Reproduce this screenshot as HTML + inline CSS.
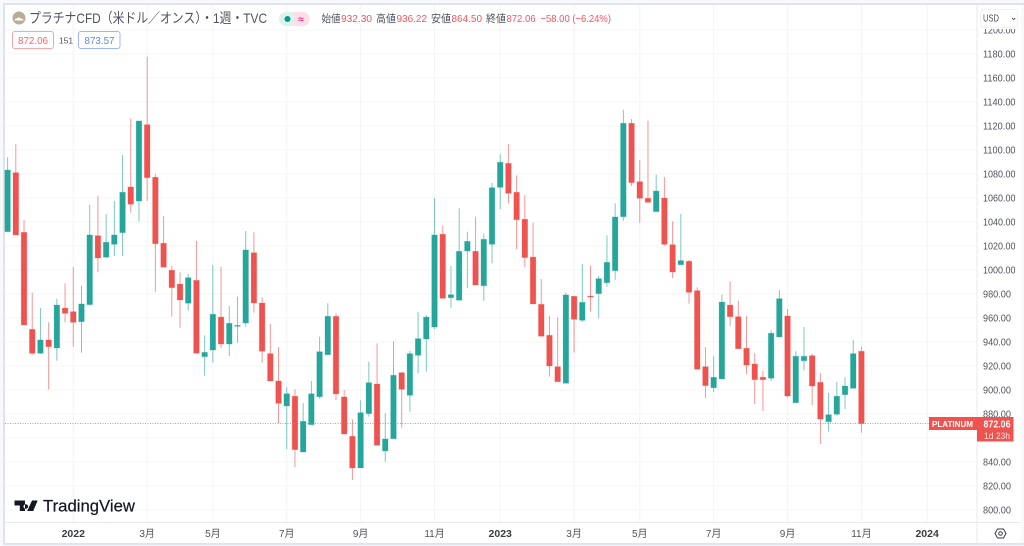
<!DOCTYPE html>
<html lang="ja">
<head>
<meta charset="utf-8">
<title>プラチナCFD</title>
<style>
html,body{margin:0;padding:0;width:1024px;height:546px;overflow:hidden;background:#fff}
svg{display:block;font-family:"Liberation Sans","Noto Sans CJK JP",sans-serif}
</style>
</head>
<body>
<svg id="chart" width="1024" height="546" viewBox="0 0 1024 546" xmlns="http://www.w3.org/2000/svg">
  <rect x="0" y="0" width="1024" height="546" fill="#f8f9fc"/>
  <rect x="5" y="5" width="1016" height="538" fill="#ffffff"/>
  <rect x="3" y="3" width="1021" height="2" fill="#e0e3eb"/>
  <rect x="3" y="3" width="2" height="540" fill="#e0e3eb"/>
  <rect x="3" y="543" width="1021" height="2" fill="#e0e3eb"/>
  <g id="grid"></g>
  <g id="priceLine"></g>
  <g id="candles"></g>

  <rect x="976.5" y="5" width="1" height="538" fill="#e8eaef"/>
  <rect x="5" y="522" width="1016" height="1" fill="#e8eaef"/>
  <g id="priceAxis"></g>
  <g id="timeAxis"></g>

  <rect x="977.5" y="5" width="43" height="24" fill="#fff"/>
  <g>
    <rect x="980.5" y="9.5" width="37" height="18" rx="3" fill="#fff" stroke="#f0f1f4"/>
    <text x="983" y="21.5" font-size="10.5" fill="#50535e" textLength="16" lengthAdjust="spacingAndGlyphs">USD</text>
    <path d="M1012 18l1.6 1.6 1.6-1.6" fill="none" stroke="#50535e" stroke-width="0.9"/>
  </g>

  <g>
    <circle cx="19" cy="18" r="6.5" fill="#b9ad98"/>
    <path d="M14.5 20.5c.3-1.6 1.5-2 2.3-1.8.5-1.600 3.500-1.600 4 0 1-.3 2.400.2 2.700 1.800z" fill="#fff"/>
    <text x="29" y="23" font-size="14" fill="#50535e" textLength="238" lengthAdjust="spacingAndGlyphs">プラチナCFD（米ドル／オンス）・1週・TVC</text>
  </g>
  <g>
    <path d="M286 12h8v14h-8a7 7 0 0 1 0-14z" fill="#dcf2ee"/>
    <path d="M294 12h8.500a7 7 0 0 1 0 14H294z" fill="#fddde8"/>
    <circle cx="287.500" cy="19" r="3" fill="#089981"/>
    <text x="301" y="22.500" font-size="10" font-weight="bold" fill="#f2367a" text-anchor="middle">≈</text>
  </g>
  <g font-size="10.500">
    <text x="321.500" y="22" fill="#50535e" textLength="19" lengthAdjust="spacingAndGlyphs">始値</text>
    <text x="341" y="22" fill="#f7525f" textLength="31" lengthAdjust="spacingAndGlyphs">932.30</text>
    <text x="376" y="22" fill="#50535e" textLength="20" lengthAdjust="spacingAndGlyphs">高値</text>
    <text x="396.500" y="22" fill="#f7525f" textLength="30.500" lengthAdjust="spacingAndGlyphs">936.22</text>
    <text x="431" y="22" fill="#50535e" textLength="20" lengthAdjust="spacingAndGlyphs">安値</text>
    <text x="451.500" y="22" fill="#f7525f" textLength="30.500" lengthAdjust="spacingAndGlyphs">864.50</text>
    <text x="486" y="22" fill="#50535e" textLength="20" lengthAdjust="spacingAndGlyphs">終値</text>
    <text x="506.500" y="22" fill="#f7525f" textLength="29" lengthAdjust="spacingAndGlyphs">872.06</text>
    <text x="540.500" y="22" fill="#f7525f" textLength="70.500" lengthAdjust="spacingAndGlyphs">−58.00 (−6.24%)</text>
  </g>
  <g>
    <rect x="12.500" y="31.500" width="41" height="17" rx="2.500" fill="#fff" stroke="#f9a5a8"/>
    <text x="33" y="44" font-size="10.500" fill="#f7616c" text-anchor="middle" textLength="30" lengthAdjust="spacingAndGlyphs">872.06</text>
    <text x="66" y="43.500" font-size="8.500" fill="#50535e" text-anchor="middle">151</text>
    <rect x="78.500" y="31.500" width="41.500" height="17" rx="2.500" fill="#fff" stroke="#9fb6fa"/>
    <text x="99.500" y="44" font-size="10.500" fill="#5f82f2" text-anchor="middle" textLength="30" lengthAdjust="spacingAndGlyphs">873.57</text>
  </g>

  <g>
    <path d="M14.500 500.500h10.500v10.500h-5.200v-5.500h-5.300zM25.800 504.200a2.300 2.300 0 1 0 .01 0zM32 500.500h5.700l-4.500 10.500h-6z" fill="#131722"/>
    <text x="43" y="511.500" font-size="16.500" fill="#131722" stroke="#131722" stroke-width="0.200" textLength="92" lengthAdjust="spacingAndGlyphs">TradingView</text>
  </g>

  <g>
    <rect x="929" y="417" width="48" height="13" fill="#ef5350"/>
    <text x="932" y="427" font-size="8.500" font-weight="bold" fill="#fff" textLength="41" lengthAdjust="spacingAndGlyphs">PLATINUM</text>
    <rect x="977" y="417" width="36.500" height="24.500" fill="#ef5350"/>
    <text x="983.500" y="427.500" font-size="10" font-weight="bold" fill="#fff" textLength="27" lengthAdjust="spacingAndGlyphs">872.06</text>
    <text x="984" y="439" font-size="9.500" fill="#fde0e0" textLength="26" lengthAdjust="spacingAndGlyphs">1d 23h</text>
  </g>

  <g>
    <path d="M997.500 529h6l2.500 4.500-2.500 4.500h-6l-2.500-4.500z" fill="none" stroke="#3a3d46" stroke-width="1"/>
    <circle cx="1000.500" cy="533.500" r="1.800" fill="none" stroke="#3a3d46" stroke-width="1"/>
  </g>
</svg>

<script>
const opens = [1031.9,1081.1,1031.4,950.6,930.6,941.7,935,968.3,965.3,956.9,971.1,1028.6,1010.6,1021.4,1031.1,1069.2,1057.5,1121.1,1077.3,1022.3,999.8,988.3,972.3,991.4,927.8,933.3,960.8,938.3,953.1,955.8,1014.4,972.5,930.3,907.5,886.7,894.8,848.3,871.1,894.4,929.4,961.4,894.2,861.4,835,880.3,905,849.2,859.4,914.4,895.6,928.9,942.5,952.5,1029.8,976.9,974.8,1015.8,1015.6,986.9,1021.4,1068.9,1088.9,1064.8,1042.3,1010.8,971.4,945.6,919.4,905.6,978.1,958.1,978.3,980.3,989.4,999.4,1044.4,1122.3,1073.6,1059.8,1048.6,1060,1021.1,1004.4,1007.3,982.8,919.4,901.9,909.2,970.8,961.1,934.8,921.7,910.6,909.8,944.2,961.7,889.4,924.4,928.6,906.4,873.6,879.8,896.1,901.4,932.3];
const highs = [1093.9,1105,1041.7,981.1,968.3,956.4,976.1,988.9,1002.5,986.7,1054.2,1061.9,1046.7,1057.5,1095.8,1126.4,1124.2,1177.8,1079.8,1045,1003.6,998.1,996.7,1024.2,945.6,1004.2,1002.5,970,977.8,1032.5,1031.4,977.3,955,935.8,902.3,900.6,889.2,907.5,944.4,972.3,963.9,899.8,875.6,891.4,923.6,938.9,880.6,940.6,915,932.5,965.3,962.5,1059.8,1036.9,1003.3,1051.4,1031.9,1044.4,1030.3,1072.5,1096.4,1105,1078.9,1062.5,1039.2,992.5,961.7,960.3,981.1,978.3,1005,1003.6,995,1028.9,1055.6,1133.6,1125.8,1091.7,1124.4,1079.4,1077.5,1040.6,1046.7,1008.3,985.6,935.8,928.1,979.4,990.6,974.4,961.7,930.8,915.8,949.8,983.3,967.5,932.3,952.5,930.3,913.9,897.5,906.7,910.6,941.7,936.22];
const lows = [1031.9,1029.2,954.2,929.4,930,900.6,924.4,956.4,936.1,931.1,971.1,998.1,1010.6,1011.7,1011.7,1047.8,1040.3,1057.5,981.9,1002.3,961.1,951.9,966.1,930.6,911.9,922.8,935,928.3,939.4,952.8,964.4,922.8,907.5,872.3,850.6,835.6,848.3,871.1,892.8,929.4,891.7,863.3,825,835,877.8,853.9,840.3,859.4,868.6,881.9,913.9,915.3,950.8,976.4,968.6,974.8,984.8,987.5,974.4,1005.6,1050.8,1055.3,1017.5,1002.3,971.7,944.8,911.1,906.9,905.6,931.1,956.9,965.3,959.8,985.8,991.9,1041.1,1070,1039.4,1056.4,1048.6,1020.3,993.1,1004.4,971.9,917.3,893.3,898.3,909.2,953.3,934.4,913.1,888.3,882.5,907.5,944.2,893.6,889.4,916.4,887.5,855,865.3,878.6,884.2,901.4,864.5];
const closes = [1083.3,1029.2,954.2,930.6,941.7,936.1,970.8,963.9,956.4,971.7,1029.2,1010,1023.1,1029.2,1064.8,1054.8,1124.2,1076.9,1021.9,1002.3,985.3,975,993.6,930.6,931.4,963.1,938.3,955.6,953.9,1016.7,972.5,932.3,907.5,888.9,896.9,850.3,873.9,896.9,931.9,961.4,896.7,863.3,835,881.1,906.1,853.9,859.2,912.3,900.6,930.3,942.8,960.8,1029.2,976.4,979.4,1015.6,1023.9,987.5,1025.6,1068.6,1089.8,1063.9,1041.9,1010.3,971.7,944.8,920,906.9,979.2,958.9,973.1,977.5,992.8,1006.4,1044.2,1122.3,1072.8,1059.8,1056.4,1065.8,1021.4,998.3,1007.8,981.4,917.3,903.6,910.6,973.3,961.1,934.4,920.8,908.6,908.6,947.3,976.1,895,928.1,928.1,903.3,875.8,879.4,894.8,903.3,930.3,872.06];
const lastPrice = 872.06;
const priceTicks = [1200,1180,1160,1140,1120,1100,1080,1060,1040,1020,1000,980,960,940,920,900,880,860,840,820,800];
const timeLabels = ["2022","3月","5月","7月","9月","11月","2023","3月","5月","7月","9月","11月","2024"];
const timeBarIndex = [8,17,25,34,43,52,60,69,77,86,95,104,112];
const boldTimeLabels = ["2022","2023","2024"];

const SVG_NS = "http://www.w3.org/2000/svg";
const PRICE_TOP = 1180, PRICE_TOP_Y = 54, PX_PER_UNIT = 1.2;
const BAR_START = 7.6, BAR_STEP = 8.21, BODY_W = 5.6;
const UP = "#26a69a", DOWN = "#ef5350";

function yOf(price) { return PRICE_TOP_Y + (PRICE_TOP - price) * PX_PER_UNIT; }
function xOf(index) { return BAR_START + BAR_STEP * index; }
function node(tag, attrs) {
  const el = document.createElementNS(SVG_NS, tag);
  for (const k in attrs) el.setAttribute(k, attrs[k]);
  return el;
}

const gridG = document.getElementById("grid");
const priceAxisG = document.getElementById("priceAxis");
const timeAxisG = document.getElementById("timeAxis");
const candlesG = document.getElementById("candles");
const priceLineG = document.getElementById("priceLine");

priceTicks.forEach(function (p) {
  const y = yOf(p);
  const line = node("line", { x1: 5, x2: 976, y1: y, y2: y, stroke: "#f3f4f6", "stroke-width": 1 });
  
  
  gridG.appendChild(line);
  const text = p.toFixed(2);
  const label = node("text", { x: 983, y: y + 3.6, "font-size": 10, fill: "#50535e", textLength: text.length * 4.65, lengthAdjust: "spacingAndGlyphs" });
  label.textContent = text;
  
  
  priceAxisG.insertBefore(label, priceAxisG.firstChild);
});

timeLabels.forEach(function (t, i) {
  const x = xOf(timeBarIndex[i]);
  const line = node("line", { x1: x, x2: x, y1: 5, y2: 522, stroke: "#f3f4f6", "stroke-width": 1 });
  
  
  gridG.appendChild(line);
  const bold = boldTimeLabels.indexOf(t) >= 0;
  const label = node("text", { x: x, y: 537, "font-size": bold ? 10.5 : 10, "font-weight": bold ? "bold" : "normal", fill: bold ? "#3a3d46" : "#50535e", "text-anchor": "middle" });
  label.textContent = t;
  
  
  timeAxisG.appendChild(label);
});

const lastY = yOf(lastPrice);
const dotted = node("line", { x1: 5, x2: 930, y1: lastY, y2: lastY, stroke: "#ef5350", "stroke-width": 1, "stroke-dasharray": "1 1.5", opacity: 0.7 });


priceLineG.appendChild(dotted);

opens.forEach(function (o, i) {
  const c = closes[i];
  const color = c >= o ? UP : DOWN;
  const x = xOf(i);
  const wick = node("line", { x1: x, x2: x, y1: yOf(highs[i]), y2: yOf(lows[i]), stroke: color, "stroke-width": 1, opacity: 0.6 });
  
  
  candlesG.appendChild(wick);
  const top = yOf(Math.max(o, c));
  const h = Math.max(yOf(Math.min(o, c)) - top, 1);
  const body = node("rect", { x: x - BODY_W / 2, y: top, width: BODY_W, height: h, fill: color, stroke: color, "stroke-opacity": 0.3, "stroke-width": 0.8 });
  
  
  candlesG.appendChild(body);
});
</script>
</body>
</html>
